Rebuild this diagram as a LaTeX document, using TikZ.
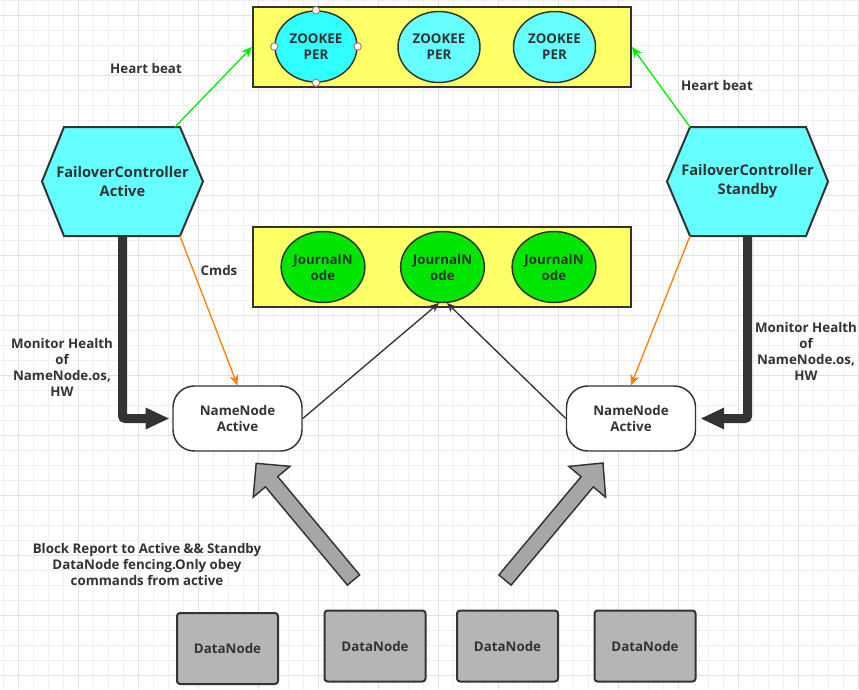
\documentclass[tikz,border=0pt]{standalone}
\usepackage{fontspec}
\setmainfont{Open Sans}
\usetikzlibrary{shapes.geometric,arrows.meta,calc}
\definecolor{txt}{HTML}{333333}
\definecolor{edge}{HTML}{333333}
\definecolor{ybox}{HTML}{FFFF66}
\definecolor{cyanf}{HTML}{66FFFF}
\definecolor{cyansel}{HTML}{30FFFF}
\definecolor{greenf}{HTML}{00E600}
\definecolor{grayf}{HTML}{B5B5B5}
\definecolor{arrowgray}{HTML}{A6A6A6}
\definecolor{orangeline}{HTML}{FF8000}
\definecolor{greenline}{HTML}{00EE00}
\definecolor{gridminor}{HTML}{F0F0F0}
\definecolor{gridmajor}{HTML}{E2E2E2}
\definecolor{handle}{HTML}{C07070}
\begin{document}
\begin{tikzpicture}[x=0.75pt,y=-0.75pt,
  lbl/.style={font=\bfseries\fontsize{10}{12}\selectfont, text=txt, align=center, inner sep=0pt},
  hexlbl/.style={font=\bfseries\fontsize{11}{14.25}\selectfont, text=txt, align=center, inner sep=0pt,
     minimum width=120.75pt, minimum height=81.75pt},
  hexshape/.style={fill=cyanf, draw=edge, line width=1.5pt, line join=miter},
  ybox/.style={rectangle, fill=ybox, draw=edge, line width=1.5pt, minimum width=283.5pt, minimum height=60pt},
  zk/.style={ellipse, fill=cyanf, draw=edge, line width=1.1pt, minimum width=61.5pt, minimum height=53.25pt,
     font=\bfseries\fontsize{10}{12}\selectfont, text=txt, align=center, inner sep=0pt},
  jn/.style={zk, fill=greenf},
  nn/.style={rectangle, rounded corners=16pt, fill=white, draw=edge, line width=1.1pt,
     minimum width=96.75pt, minimum height=48.75pt,
     font=\bfseries\fontsize{10}{12}\selectfont, text=txt, align=center, inner sep=0pt},
  dn/.style={rectangle, rounded corners=2.25pt, fill=grayf, draw=edge, line width=1.5pt,
     minimum width=75.75pt, minimum height=53.25pt,
     font=\bfseries\fontsize{10}{12}\selectfont, text=txt, align=center, inner sep=0pt},
  hb/.style={draw=greenline, line width=1pt, -{Stealth[length=8pt,width=7pt]}},
  cmd/.style={draw=orangeline, line width=1pt, -{Stealth[length=8pt,width=7pt]}},
  jarrow/.style={draw=edge, line width=1pt, -{Stealth[length=7pt,width=6pt]}},
  thickarr/.style={draw=edge, line width=6.75pt, rounded corners=2pt, -{Triangle[length=18pt,width=15pt]}},
  bigarr/.style={fill=arrowgray, draw=edge, line width=1.1pt, line join=miter},
  gm/.style={draw=gridminor, line width=0.75pt},
  gM/.style={draw=gridmajor, line width=0.75pt},
  hdl/.style={circle, fill=white, draw=handle, line width=0.75pt, minimum size=5.5pt, inner sep=0pt}
]
\useasboundingbox (0,0) rectangle (859,689);
\fill[white] (0,0) rectangle (859,689);
% grid
\foreach \gx in {3,18,...,858} \draw[gm] (\gx,0) -- (\gx,689);
\foreach \gy in {0,15,...,689} \draw[gm] (0,\gy) -- (859,\gy);
\foreach \gx in {18,78,...,858} \draw[gM] (\gx,0) -- (\gx,689);
\foreach \gy in {15,75,...,689} \draw[gM] (0,\gy) -- (859,\gy);

% ZooKeeper group
\node[ybox] (zkbox) at (442,47) {};
\node[zk, fill=cyansel] (zk1) at (316,46.5) {ZOOKEE\\PER};
\node[zk] (zk2) at (439,47) {ZOOKEE\\PER};
\node[zk] (zk3) at (554.5,47) {ZOOKEE\\PER};
\node[hdl] (h1) at (zk1.north) {};
\node[hdl] (h2) at (zk1.south) {};
\node[hdl] (h3) at (zk1.west) {};
\node[hdl] (h4) at (zk1.east) {};

% Journal group
\node[ybox] (jnbox) at (442,267) {};
\node[jn] (jn1) at (323,267) {JournalN\\ode};
\node[jn] (jn2) at (442.5,267) {JournalN\\ode};
\node[jn] (jn3) at (554,267) {JournalN\\ode};

% Failover controllers
\draw[hexshape] (42,181.5) -- (64,127) -- (180,127) -- (203,181.5) -- (180,236) -- (64,236) -- cycle;
\draw[hexshape] (667,181.5) -- (690,127) -- (806,127) -- (828,181.5) -- (806,236) -- (690,236) -- cycle;
\node[hexlbl] (fcA) at (122.5,181.5) {FailoverController\\Active};
\node[hexlbl] (fcS) at (747.5,181.5) {FailoverController\\Standby};
\coordinate (fcAtr) at (175,127);
\coordinate (fcAbr) at (180,236);
\coordinate (fcStl) at (690,127);
\coordinate (fcSbl) at (690,236);

% NameNodes
\node[nn] (nnA) at (237.5,418.5) {NameNode\\Active};
\node[nn] (nnS) at (631,418.5) {NameNode\\Active};

% DataNodes
\node[dn] (dn1) at (227.5,648.5) {DataNode};
\node[dn] (dn2) at (375,646) {DataNode};
\node[dn] (dn3) at (507.5,646) {DataNode};
\node[dn] (dn4) at (645,646) {DataNode};

% Heart beat arrows
\draw[hb] (fcAtr) -- (zkbox.west);
\draw[hb] (fcStl) -- (zkbox.east);
% Cmds arrows
\draw[cmd] (fcAbr) -- (nnA.north);
\draw[cmd] (fcSbl) -- (nnS.north);
% Journal writes
\coordinate (jA) at (439,303);
\coordinate (jS) at (447,303);
\draw[jarrow] (nnA.east) -- (jA);
\draw[jarrow] (nnS.west) -- (jS);
% Monitor health
\draw[thickarr, shorten >=2pt] (fcA.south) |- (nnA.west);
\draw[thickarr, shorten >=3pt] (fcS.south) |- (nnS.east);

% Big block report arrows
\draw[bigarr] (359.6,574.9) -- (277.7,476.6) -- (290.0,466.3) -- (256.2,463.3) -- (253.2,497.1) -- (265.5,486.8) -- (347.4,585.1) -- cycle;
\draw[bigarr] (498.9,574.9) -- (581.1,476.7) -- (568.8,466.4) -- (603,463) -- (605.6,497.2) -- (593.3,486.9) -- (511.1,585.1) -- cycle;

% Labels
\node[lbl] (hbA) at (146,68) {Heart beat};
\node[lbl] (hbS) at (717,85) {Heart beat};
\node[lbl] (cmds) at (219,270) {Cmds};
\node[lbl] (monA) at (62,367.5) {Monitor Health\\of\\NameNode.os,\\HW};
\node[lbl] (monS) at (806,351) {Monitor Health\\of\\NameNode.os,\\HW};
\node[lbl] (blk) at (147,564.5) {Block Report to Active \&\& Standby\\DataNode fencing.Only obey\\commands from active};
\end{tikzpicture}
\end{document}
